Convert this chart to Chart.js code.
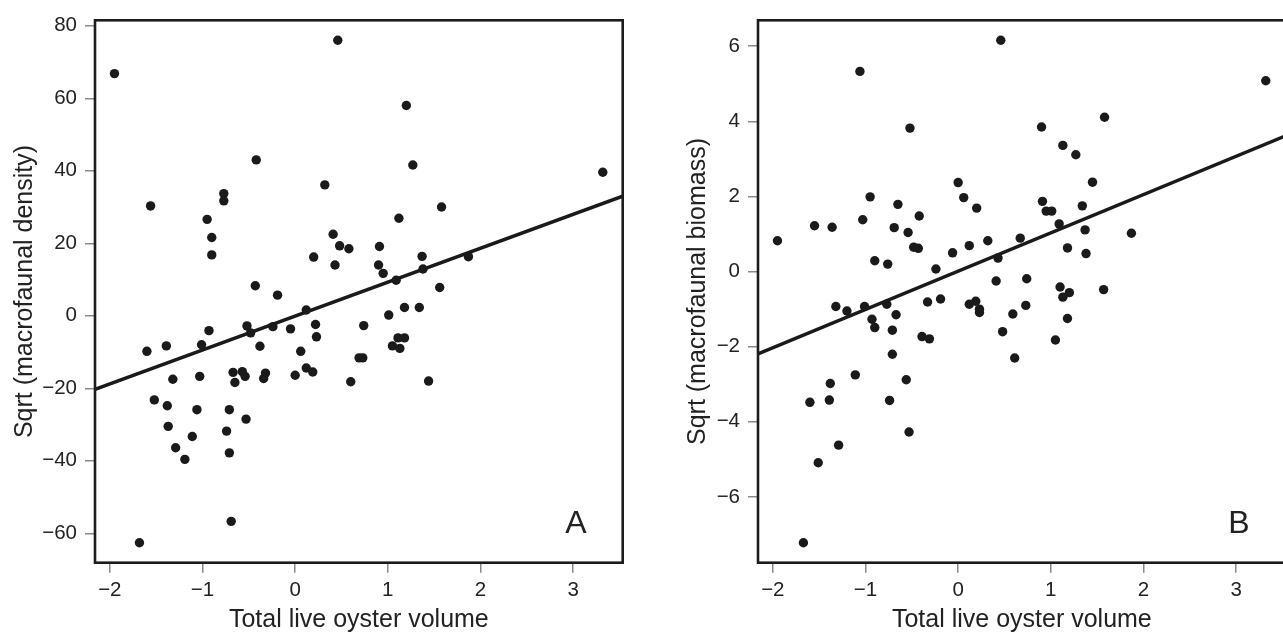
<!DOCTYPE html>
<html>
<head>
<meta charset="utf-8">
<script src="https://cdn.jsdelivr.net/npm/chart.js@4"></script>
<style>
  html, body { margin: 0; padding: 0; background: #fff; overflow: hidden; width: 1283px; height: 637px; }
  .panel { position: absolute; top: 0; width: 640px; height: 637px; }
  #wrapA { left: 0; }
  #wrapB { left: 663px; }
</style>
</head>
<body>
<div class="panel" id="wrapA"><canvas id="chartA"></canvas></div>
<div class="panel" id="wrapB"><canvas id="chartB"></canvas></div>
<script>
// Values (panel A: density, panel B: biomass)
const xA = [-1.95, 0.46, -1.56, -0.42, -0.77, -0.77, -0.95, -0.90, -0.90, 0.32,
            0.41, 0.48, 0.58, 0.20, 0.43, -0.43, -0.19, 1.20, 1.27, 3.32,
            1.58, 1.12, 0.91, 1.37, 0.90, 0.95, 1.87, 1.38, 1.09, 1.56,
            0.12, 0.22, 0.23, -0.05, -0.24, -0.52, -0.48, -0.38, -0.93, -1.01,
            -1.39, -1.60, 0.06, 0.12, 0.19, 0.00, -0.32, -0.34, -0.57, -0.54,
            -0.67, -0.65, -1.03, -1.32, 0.60, -1.52, -1.38, -1.06, -0.71, -0.53,
            -1.37, -0.74, -1.11, -1.29, -1.19, -0.71, -0.69, -1.68, 1.01, 1.18,
            1.34, 0.74, 1.11, 1.18, 1.05, 1.13, 0.69, 0.73, 1.44];
const yA = [66.8, 76.0, 30.3, 43.0, 33.7, 31.7, 26.6, 21.6, 16.8, 36.1,
            22.5, 19.3, 18.5, 16.2, 14.0, 8.3, 5.7, 58.0, 41.6, 39.6,
            30.0, 26.9, 19.1, 16.4, 14.0, 11.7, 16.3, 12.9, 9.8, 7.8,
            1.6, -2.4, -5.8, -3.6, -3.0, -2.8, -4.7, -8.4, -4.1, -8.0,
            -8.3, -9.8, -9.8, -14.4, -15.5, -16.4, -15.8, -17.3, -15.4, -16.7,
            -15.6, -18.4, -16.7, -17.5, -18.2, -23.2, -24.8, -25.9, -25.9, -28.5,
            -30.5, -31.8, -33.3, -36.4, -39.6, -37.8, -56.7, -62.6, 0.2, 2.3,
            2.3, -2.7, -6.1, -6.1, -8.3, -9.0, -11.6, -11.6, -18.0];

const xB = [0.46, -1.06, -0.52, 0.00, 0.06, 0.20, -0.95, -0.65, -0.42, -1.55,
            -1.36, -1.03, -0.69, -0.54, -1.95, -0.48, -0.43, 0.32, 0.12, -0.06,
            0.67, 0.43, -0.90, -0.76, -0.24, 0.41, 3.32, 1.58, 0.90, 1.13,
            1.27, 1.45, 0.91, 0.95, 1.01, 1.34, 1.09, 1.37, 1.87, 1.18,
            1.38, 0.74, 1.10, 1.57, 1.20, 1.13, 0.73, 0.59, 1.18, 1.05,
            0.61, -1.32, -1.20, -1.01, -0.77, -0.93, -0.90, -0.67, -0.71, -0.33,
            -0.19, 0.12, 0.19, 0.23, 0.23, 0.48, -0.39, -0.31, -0.71, -1.11,
            -0.56, -1.38, -1.60, -1.39, -0.74, -0.53, -1.29, -1.51, -1.67];
const yB = [6.16, 5.33, 3.82, 2.37, 1.97, 1.69, 1.99, 1.79, 1.48, 1.22,
            1.18, 1.38, 1.17, 1.04, 0.82, 0.65, 0.62, 0.82, 0.69, 0.50,
            0.89, 0.36, 0.29, 0.20, 0.07, -0.25, 5.08, 4.11, 3.85, 3.36,
            3.11, 2.38, 1.87, 1.61, 1.61, 1.75, 1.27, 1.11, 1.02, 0.63,
            0.48, -0.19, -0.41, -0.48, -0.56, -0.68, -0.90, -1.13, -1.25, -1.82,
            -2.30, -0.93, -1.05, -0.93, -0.87, -1.27, -1.49, -1.15, -1.56, -0.81,
            -0.73, -0.87, -0.79, -1.00, -1.09, -1.60, -1.73, -1.79, -2.20, -2.75,
            -2.88, -2.98, -3.48, -3.42, -3.43, -4.27, -4.62, -5.09, -7.22];

// fitted regression lines (slope, intercept)
const fitA = [9.36, -0.1];
const fitB = [1.02, 0.01];

const xTicks = [-2, -1, 0, 1, 2, 3];
const yTicksA = [-60, -40, -20, 0, 20, 40, 60, 80];
const yTicksB = [-6, -4, -2, 0, 2, 4, 6];

const FONT = '"Liberation Sans", Arial, Helvetica, sans-serif';
const X_MIN = -2.16, X_MAX = 3.535;

function minus(v) {
    return v < 0 ? '\u2212' + Math.abs(v) : String(v);
}

// draws the box round the plot and the panel letter
const panelFrame = {
    id: 'panelFrame',
    afterDraw(chart, args, opts) {
        const { ctx, chartArea: a } = chart;
        ctx.save();
        ctx.strokeStyle = '#1c1c1c';
        ctx.lineWidth = 2.6;
        ctx.strokeRect(a.left, a.top, a.right - a.left, a.bottom - a.top);
        ctx.fillStyle = '#222';
        ctx.font = '32px ' + FONT;
        ctx.textAlign = 'right';
        ctx.textBaseline = 'alphabetic';
        ctx.fillText(opts.letter, a.right - 36, a.bottom - 29.4);
        ctx.restore();
    }
};

function makeChart(id, xs, ys, fit, yTicks, yMin, yMax, yTitle, yTitlePad, letter) {
    const points = xs.map((x, i) => ({ x: x, y: ys[i] }));
    const line = [X_MIN, X_MAX].map(x => ({ x: x, y: fit[0] * x + fit[1] }));

    return new Chart(document.getElementById(id), {
        type: 'scatter',
        data: {
            datasets: [{
                data: points,
                pointRadius: 4.7,
                pointBackgroundColor: '#1a1a1a',
                pointBorderWidth: 0,
                pointHoverRadius: 4.7
            }, {
                type: 'line',
                data: line,
                borderColor: '#1a1a1a',
                borderWidth: 3.5,
                pointRadius: 0,
                fill: false
            }]
        },
        options: {
            responsive: true,
            maintainAspectRatio: false,
            animation: false,
            layout: { padding: { top: 16.7, right: 17.3, left: 0, bottom: 0 } },
            scales: {
                x: {
                    type: 'linear',
                    min: X_MIN,
                    max: X_MAX,
                    afterBuildTicks: s => { s.ticks = xTicks.map(v => ({ value: v })); },
                    afterFit: s => { s.height = 74.3; },
                    border: { display: false },
                    grid: { drawOnChartArea: false, drawTicks: true, tickLength: 10, color: '#8a8a8a', lineWidth: 1.5 },
                    ticks: {
                        autoSkip: false, maxRotation: 0, padding: 5,
                        color: '#222', font: { family: FONT, size: 20.5 },
                        callback: v => minus(v)
                    },
                    title: {
                        display: true, text: 'Total live oyster volume',
                        color: '#222', font: { family: FONT, size: 25 },
                        padding: { top: 0, bottom: 2 }
                    }
                },
                y: {
                    type: 'linear',
                    min: yMin,
                    max: yMax,
                    afterBuildTicks: s => { s.ticks = yTicks.map(v => ({ value: v })); },
                    afterFit: s => { s.width = 95; },
                    border: { display: false },
                    grid: { drawOnChartArea: false, drawTicks: true, tickLength: 10, color: '#8a8a8a', lineWidth: 1.5 },
                    ticks: {
                        autoSkip: false, padding: 8,
                        color: '#222', font: { family: FONT, size: 20.5 },
                        callback: v => minus(v)
                    },
                    title: {
                        display: true, text: yTitle,
                        color: '#222', font: { family: FONT, size: 25 },
                        padding: { top: yTitlePad, bottom: 0 }
                    }
                }
            },
            plugins: {
                legend: { display: false },
                tooltip: { enabled: false },
                panelFrame: { letter: letter }
            }
        },
        plugins: [panelFrame]
    });
}

makeChart('chartA', xA, yA, fitA, yTicksA, -68.1, 81.5, 'Sqrt (macrofaunal density)', 10, 'A');
makeChart('chartB', xB, yB, fitB, yTicksB, -7.75, 6.69, 'Sqrt (macrofaunal biomass)', 20, 'B');
</script>
</body>
</html>
